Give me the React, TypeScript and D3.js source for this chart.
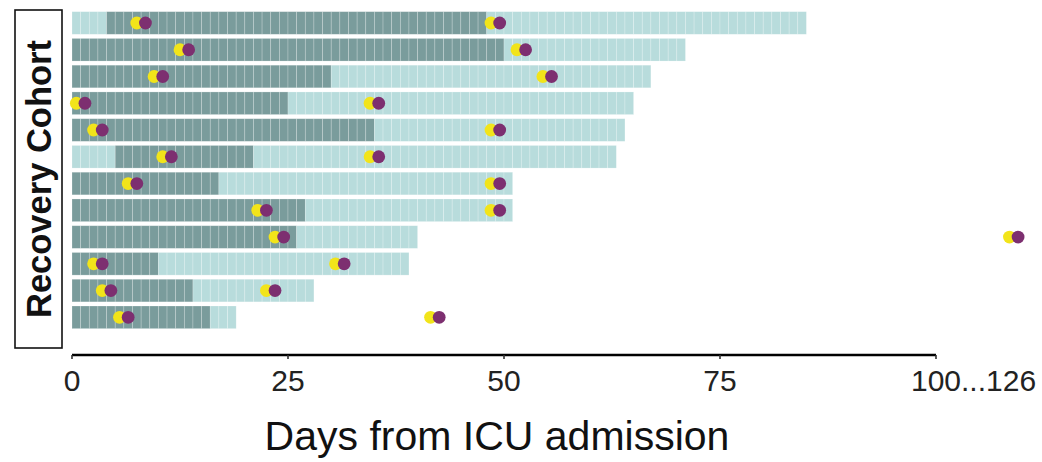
import React from "react";
import * as d3 from "d3";

const rowIds = ["P1", "P2", "P3", "P4", "P5", "P6", "P7", "P8", "P9", "P10", "P11", "P12"];
const lightEnd = [85, 71, 67, 65, 64, 63, 51, 51, 40, 39, 28, 19];
const darkStart = [4, 0, 0, 0, 0, 5, 0, 0, 0, 0, 0, 0];
const darkEnd = [48, 50, 30, 25, 35, 21, 17, 27, 26, 10, 14, 16];
const yellowDays = [[7, 48], [12, 51], [9, 54], [0, 34], [2, 48], [10, 34], [6, 48], [21, 48], [23, 134], [2, 30], [3, 22], [5, 41]];
const purpleDays = [[8, 49], [13, 52], [10, 55], [1, 35], [3, 49], [11, 35], [7, 49], [22, 49], [24, 135], [3, 31], [4, 23], [6, 42]];
const tickValues = [0, 25, 50, 75, 100];
const tickLabels = ["0", "25", "50", "75", "100...126"];
const breakStart = 100;
const breakEnd = 126;

const W = 1042;
const H = 462;

export default function App() {
  const x = d3.scaleLinear().domain([0, 100]).range([72, 936]);
  const xp = (v: number) => x(v >= breakEnd ? v - (breakEnd - breakStart) : v);
  const y = d3.scaleBand<string>().domain(rowIds).range([9.6, 330.7]).paddingInner(0.155).paddingOuter(0.0775);
  const bw = y.bandwidth();
  const dark = "#7a9c9c";
  const light = "#b8dcdc";
  const tickFont = 30;
  const digitW = 0.556 * tickFont;

  return (
    <svg width={W} height={H} style={{ position: "absolute", left: 0, top: 0, display: "block" }} fontFamily="'Liberation Sans', Arial, sans-serif">
      <rect x={0} y={0} width={W} height={H} fill="#ffffff" />
      {rowIds.map((id, i) => {
        const y0 = y(id) as number;
        const days = d3.range(0, lightEnd[i]);
        return (
          <g key={id}>
            {days.map((d) => (
              <rect
                key={d}
                x={x(d)}
                y={y0}
                width={x(d + 1) - x(d)}
                height={bw}
                fill={d >= darkStart[i] && d < darkEnd[i] ? dark : light}
                stroke="#ffffff"
                strokeOpacity={0.3}
                strokeWidth={0.7}
              />
            ))}
            {yellowDays[i].map((d, k) => (
              <circle key={"y" + k} cx={xp(d + 0.5)} cy={y0 + bw / 2} r={6.4} fill="#f2e41a" />
            ))}
            {purpleDays[i].map((d, k) => (
              <circle key={"p" + k} cx={xp(d + 0.5)} cy={y0 + bw / 2} r={6.4} fill="#7d2f70" />
            ))}
          </g>
        );
      })}
      <rect x={15} y={10} width={47} height={338} fill="none" stroke="#111" strokeWidth={1.6} />
      <text
        transform={`translate(39,179) rotate(-90)`}
        textAnchor="middle"
        dominantBaseline="central"
        fontWeight="bold"
        fontSize={34.5}
        fill="#111"
      >
        Recovery Cohort
      </text>
      <line x1={x(0)} x2={x(100)} y1={355} y2={355} stroke="#000" strokeWidth={2.6} />
      {tickValues.map((t, i) => (
        <g key={t}>
          <line x1={x(t)} x2={x(t)} y1={355} y2={359} stroke="#333" strokeWidth={1.6} />
          <text
            x={i === tickValues.length - 1 ? x(t) - 1.5 * digitW : x(t)}
            y={391}
            textAnchor={i === tickValues.length - 1 ? "start" : "middle"}
            fontSize={tickFont}
            fill="#222"
          >
            {tickLabels[i]}
          </text>
        </g>
      ))}
      <text x={497} y={450} textAnchor="middle" fontSize={41} fill="#111">
        Days from ICU admission
      </text>
    </svg>
  );
}
